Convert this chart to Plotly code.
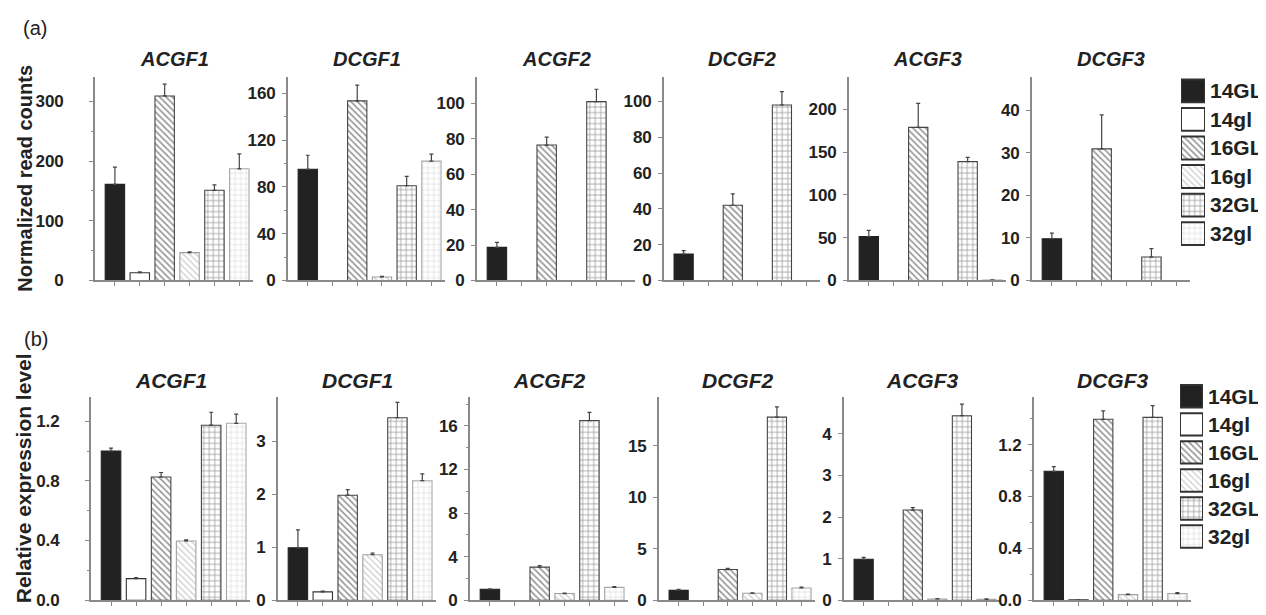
import plotly.graph_objects as go

# ---------------- data ----------------
groups = ["14GL", "14gl", "16GL", "16gl", "32GL", "32gl"]
genes = ["ACGF1", "DCGF1", "ACGF2", "DCGF2", "ACGF3", "DCGF3"]

# (a) Normalized read counts (value, upper error)
reads_ACGF1 = [161, 13, 309, 46.7, 151, 187]
reads_ACGF1_err = [29, 1.5, 20, 1.3, 9, 25]
reads_DCGF1 = [95, None, 153.5, 3, 81, 102]
reads_DCGF1_err = [12, 0, 13.5, 0.5, 8, 6]
reads_ACGF2 = [18.7, None, 76.5, None, 101, None]
reads_ACGF2_err = [2.8, 0, 4.5, 0, 7, 0]
reads_DCGF2 = [14.8, None, 42, None, 98, None]
reads_DCGF2_err = [1.9, 0, 6.4, 0, 7.5, 0]
reads_ACGF3 = [51.4, None, 179, None, 139, 0.4]
reads_ACGF3_err = [7.2, 0, 28, 0, 5, 0.3]
reads_DCGF3 = [9.8, None, 30.9, None, 5.5, None]
reads_DCGF3_err = [1.3, 0, 8, 0, 2, 0]

# (b) Relative expression level (value, upper error)
rel_ACGF1 = [1.0, 0.145, 0.826, 0.397, 1.173, 1.186]
rel_ACGF1_err = [0.02, 0.007, 0.03, 0.008, 0.087, 0.062]
rel_DCGF1 = [0.99, 0.157, 1.985, 0.86, 3.45, 2.26]
rel_DCGF1_err = [0.34, 0.015, 0.105, 0.03, 0.29, 0.13]
rel_ACGF2 = [1.0, None, 3.04, 0.61, 16.5, 1.18]
rel_ACGF2_err = [0.05, 0, 0.15, 0.05, 0.75, 0.07]
rel_DCGF2 = [0.96, None, 2.98, 0.67, 17.8, 1.19]
rel_DCGF2_err = [0.09, 0, 0.12, 0.05, 1.0, 0.09]
rel_ACGF3 = [0.985, None, 2.17, 0.03, 4.44, 0.02]
rel_ACGF3_err = [0.045, 0, 0.06, 0.01, 0.28, 0.01]
rel_DCGF3 = [0.994, 0.003, 1.395, 0.043, 1.41, 0.051]
rel_DCGF3_err = [0.036, 0.0, 0.065, 0.004, 0.09, 0.007]

row_a = [(reads_ACGF1, reads_ACGF1_err), (reads_DCGF1, reads_DCGF1_err),
         (reads_ACGF2, reads_ACGF2_err), (reads_DCGF2, reads_DCGF2_err),
         (reads_ACGF3, reads_ACGF3_err), (reads_DCGF3, reads_DCGF3_err)]
row_b = [(rel_ACGF1, rel_ACGF1_err), (rel_DCGF1, rel_DCGF1_err),
         (rel_ACGF2, rel_ACGF2_err), (rel_DCGF2, rel_DCGF2_err),
         (rel_ACGF3, rel_ACGF3_err), (rel_DCGF3, rel_DCGF3_err)]

# ---------------- style ----------------
W, H = 1266, 615
def fx(p): return p / W
def fy(p): return 1 - p / H

FONT = "Liberation Sans, Arial, sans-serif"
AX = "#8a8a8a"
TXT = "#222222"

# per-group style
STY = {
    "14GL": dict(color="#222222", shape="", fg="#222222", size=6, sol=0.3, line="#222222"),
    "14gl": dict(color="white", shape="", fg="#333333", size=6, sol=0.3, line="#333333"),
    "16GL": dict(color="white", shape="\\", fg="#2a2a2a", size=4.5, sol=0.36, line="#444444"),
    "16gl": dict(color="white", shape="\\", fg="#a0a0a0", size=4.5, sol=0.3, line="#a0a0a0"),
    "32GL": dict(color="white", shape="+", fg="#2a2a2a", size=5.5, sol=0.25, line="#444444"),
    "32gl": dict(color="white", shape="+", fg="#b0b0b0", size=5.5, sol=0.2, line="#a8a8a8"),
}

def marker_for(g, line_color=None, lw=1.1):
    s = STY[g]
    m = dict(color=s["color"], line=dict(color=line_color or s["line"], width=lw))
    if s["shape"]:
        m["pattern"] = dict(shape=s["shape"], fgcolor=s["fg"], bgcolor="white",
                            size=s["size"], solidity=s["sol"], fillmode="overlay")
    return m

xdom_a = [(87, 245), (280, 437), (469, 627), (656, 812), (841, 998), (1024, 1182)]
xdom_b = [(83, 242), (270, 428), (462, 620), (651, 807), (836, 992), (1026, 1183)]
ydom_a = (277, 70)
ydom_b = (602, 395)

ytop_a = [341, 174, 115, 113.7, 238, 47.8]
dtick_a = [100, 40, 20, 20, 50, 10]
minor_a = [50, 20, None, None, None, None]
ytop_b = [1.365, 3.85, 18.7, 19.8, 4.9, 1.57]
dtick_b = [0.4, 1, 4, 5, 1, 0.4]
minor_b = [0.2, None, 2, None, None, 0.2]
fmt_b = [".1f", "", "", "", "", ".1f"]
standoff = [22, 3, 3, 3, 3, 3]

fig = go.Figure()
layout = {}
annotations = []

rows = [(row_a, xdom_a, ydom_a, ytop_a, dtick_a, minor_a, [""] * 6, 52, 20),
        (row_b, xdom_b, ydom_b, ytop_b, dtick_b, minor_b, fmt_b, 378.5, 21)]

k = 0
for r, (rowdata, xdoms, ydom, ytops, dticks, minors, fmts, title_y, tsize) in enumerate(rows):
    for j in range(6):
        k += 1
        vals, errs = rowdata[j]
        xs = "x" if k == 1 else f"x{k}"
        ys = "y" if k == 1 else f"y{k}"
        for gi, g in enumerate(groups):
            if vals[gi] is None:
                continue
            fig.add_trace(go.Bar(
                x=[g], y=[vals[gi]], xaxis=xs, yaxis=ys, width=0.78,
                marker=marker_for(g),
                error_y=dict(type="data", symmetric=False, array=[errs[gi]],
                             arrayminus=[0], color="#444444", thickness=1.2, width=2),
                showlegend=False, hoverinfo="skip"))
        x0, x1 = xdoms[j]
        xkey = "xaxis" if k == 1 else f"xaxis{k}"
        ykey = "yaxis" if k == 1 else f"yaxis{k}"
        layout[xkey] = dict(domain=[fx(x0), fx(x1)], anchor=ys, type="category",
                            categoryorder="array", categoryarray=groups,
                            range=[-0.8, 5.55], showline=True, linecolor=AX, linewidth=1.6,
                            ticks="outside", ticklen=4, tickcolor=AX, tickwidth=1.2,
                            tickmode="array", tickvals=groups,
                            showticklabels=False, showgrid=False, zeroline=False)
        yax = dict(domain=[fy(ydom[0]), fy(ydom[1])], anchor=xs, range=[0, ytops[j]],
                   tick0=0, dtick=dticks[j], tickformat=fmts[j], showline=True,
                   linecolor=AX, linewidth=1.6, ticks="outside", ticklen=4,
                   tickcolor=AX, tickwidth=1.2, showgrid=False, zeroline=False,
                   ticklabelstandoff=standoff[j],
                   tickfont=dict(family=FONT, size=17, color=TXT, weight="bold"))
        if minors[j]:
            yax["minor"] = dict(dtick=minors[j], tick0=0, ticks="outside", ticklen=2.5,
                                tickcolor=AX, tickwidth=1, showgrid=False)
        layout[ykey] = yax
        annotations.append(dict(text=f"<b><i>{genes[j]}</i></b>", x=fx((x0 + x1) / 2),
                                y=fy(title_y), xref="paper", yref="paper",
                                showarrow=False, xanchor="center", yanchor="middle",
                                font=dict(family=FONT, size=tsize, color=TXT)))

# legends drawn as horizontal bars on their own axes
leg_specs = [((1173, 1197), (69.8, 243.8)), ((1172, 1195), (380.5, 551.5))]
for (lx0, lx1), (ly0, ly1) in leg_specs:
    k += 1
    xs, ys = f"x{k}", f"y{k}"
    for g in groups:
        fig.add_trace(go.Bar(
            y=[g], x=[1], orientation="h", xaxis=xs, yaxis=ys, width=0.8,
            cliponaxis=False, marker=marker_for(g, line_color="#333333", lw=2),
            showlegend=False, hoverinfo="skip"))
    layout[f"xaxis{k}"] = dict(domain=[fx(lx0), fx(lx1)], anchor=ys, range=[0, 1],
                               visible=False, fixedrange=True)
    layout[f"yaxis{k}"] = dict(domain=[fy(ly1), fy(ly0)], anchor=xs, type="category",
                               categoryorder="array", categoryarray=groups,
                               tickmode="array", tickvals=groups, ticktext=groups,
                               range=[5.5, -0.5], side="right", showline=False,
                               showgrid=False, zeroline=False, ticks="", ticklen=0,
                               ticklabelstandoff=4,
                               tickfont=dict(family=FONT, size=21, color=TXT, weight="bold"))

annotations += [
    dict(text="(a)", x=fx(27), y=fy(20), xref="paper", yref="paper", showarrow=False,
         xanchor="center", yanchor="middle", font=dict(family=FONT, size=20, color=TXT)),
    dict(text="(b)", x=fx(28), y=fy(336), xref="paper", yref="paper", showarrow=False,
         xanchor="center", yanchor="middle", font=dict(family=FONT, size=20, color=TXT)),
    dict(text="<b>Normalized read counts</b>", x=fx(17), y=fy(173.5), xref="paper",
         yref="paper", showarrow=False, textangle=-90, xanchor="center", yanchor="middle",
         font=dict(family=FONT, size=20, color=TXT)),
    dict(text="<b>Relative expression level</b>", x=fx(15), y=fy(478), xref="paper",
         yref="paper", showarrow=False, textangle=-90, xanchor="center", yanchor="middle",
         font=dict(family=FONT, size=21, color=TXT)),
]

fig.update_layout(**layout)
fig.update_layout(width=W, height=H, margin=dict(l=0, r=0, t=0, b=0),
                  paper_bgcolor="white", plot_bgcolor="white", barmode="overlay",
                  annotations=annotations, showlegend=False)

fig.write_html("out.html", config={"displayModeBar": False})
